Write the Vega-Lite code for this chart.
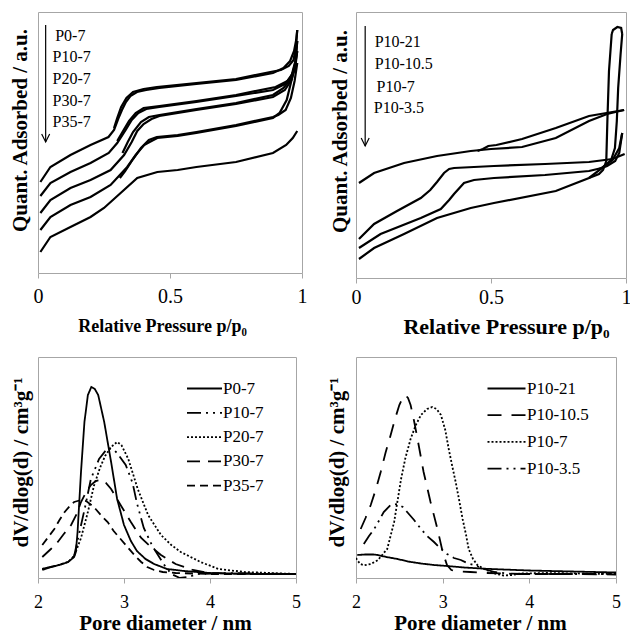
{
  "$schema": "https://vega.github.io/schema/vega-lite/v6.json",
  "background": "white",
  "padding": {"left": 8, "top": 11, "right": 0, "bottom": 0},
  "spacing": 18,
  "config": {
    "view": {"stroke": "#a6a6a6", "strokeWidth": 1},
    "font": "Liberation Serif",
    "text": {"font": "Liberation Serif"},
    "axis": {"grid": false, "domain": false, "labelFont": "Liberation Serif", "titleFont": "Liberation Serif", "labelColor": "black", "titleColor": "black", "titleFontWeight": "bold", "tickColor": "#a6a6a6", "tickSize": 5, "labelFlush": false, "labelBaseline": "alphabetic", "titleBaseline": "alphabetic", "titleAlign": "center"}
  },
  "resolve": {"scale": {"strokeDash": "independent"}, "legend": {"strokeDash": "independent"}},
  "datasets": {
    "iso1": [
      {"s":"P0-7","b":"a","x":0.009,"y":91},{"s":"P0-7","b":"a","x":0.047,"y":106},{"s":"P0-7","b":"a","x":0.123,"y":118},{"s":"P0-7","b":"a","x":0.199,"y":128},{"s":"P0-7","b":"a","x":0.267,"y":136},{"s":"P0-7","b":"a","x":0.288,"y":143},{"s":"P0-7","b":"a","x":0.305,"y":155},{"s":"P0-7","b":"a","x":0.318,"y":163},{"s":"P0-7","b":"a","x":0.333,"y":171},{"s":"P0-7","b":"a","x":0.35,"y":177},{"s":"P0-7","b":"a","x":0.375,"y":181},{"s":"P0-7","b":"a","x":0.41,"y":183},{"s":"P0-7","b":"a","x":0.46,"y":185},{"s":"P0-7","b":"a","x":0.6,"y":189},{"s":"P0-7","b":"a","x":0.75,"y":193},{"s":"P0-7","b":"a","x":0.89,"y":200},{"s":"P0-7","b":"a","x":0.93,"y":205},{"s":"P0-7","b":"a","x":0.955,"y":212},{"s":"P0-7","b":"a","x":0.97,"y":222},{"s":"P0-7","b":"a","x":0.978,"y":233},{"s":"P0-7","b":"a","x":0.982,"y":243},
      {"s":"P0-7","b":"d","x":0.982,"y":243},{"s":"P0-7","b":"d","x":0.977,"y":226},{"s":"P0-7","b":"d","x":0.968,"y":213},{"s":"P0-7","b":"d","x":0.95,"y":207},{"s":"P0-7","b":"d","x":0.92,"y":203},{"s":"P0-7","b":"d","x":0.88,"y":201},{"s":"P0-7","b":"d","x":0.75,"y":194},{"s":"P0-7","b":"d","x":0.6,"y":190},{"s":"P0-7","b":"d","x":0.45,"y":186},{"s":"P0-7","b":"d","x":0.4,"y":184},{"s":"P0-7","b":"d","x":0.36,"y":181},{"s":"P0-7","b":"d","x":0.335,"y":175},{"s":"P0-7","b":"d","x":0.315,"y":166},{"s":"P0-7","b":"d","x":0.3,"y":155},{"s":"P0-7","b":"d","x":0.288,"y":145},
      {"s":"P10-7","b":"a","x":0.009,"y":77},{"s":"P10-7","b":"a","x":0.047,"y":90},{"s":"P10-7","b":"a","x":0.123,"y":101},{"s":"P10-7","b":"a","x":0.199,"y":110},{"s":"P10-7","b":"a","x":0.268,"y":120},{"s":"P10-7","b":"a","x":0.3,"y":130},{"s":"P10-7","b":"a","x":0.332,"y":143},{"s":"P10-7","b":"a","x":0.355,"y":153},{"s":"P10-7","b":"a","x":0.38,"y":160},{"s":"P10-7","b":"a","x":0.41,"y":164},{"s":"P10-7","b":"a","x":0.46,"y":166},{"s":"P10-7","b":"a","x":0.6,"y":171},{"s":"P10-7","b":"a","x":0.75,"y":177},{"s":"P10-7","b":"a","x":0.89,"y":183},{"s":"P10-7","b":"a","x":0.935,"y":189},{"s":"P10-7","b":"a","x":0.96,"y":197},{"s":"P10-7","b":"a","x":0.975,"y":212},{"s":"P10-7","b":"a","x":0.982,"y":232},
      {"s":"P10-7","b":"d","x":0.982,"y":232},{"s":"P10-7","b":"d","x":0.976,"y":212},{"s":"P10-7","b":"d","x":0.965,"y":200},{"s":"P10-7","b":"d","x":0.945,"y":192},{"s":"P10-7","b":"d","x":0.9,"y":186},{"s":"P10-7","b":"d","x":0.75,"y":178},{"s":"P10-7","b":"d","x":0.6,"y":172},{"s":"P10-7","b":"d","x":0.46,"y":167},{"s":"P10-7","b":"d","x":0.4,"y":165},{"s":"P10-7","b":"d","x":0.37,"y":160},{"s":"P10-7","b":"d","x":0.345,"y":152},{"s":"P10-7","b":"d","x":0.32,"y":141},{"s":"P10-7","b":"d","x":0.3,"y":132},
      {"s":"P20-7","b":"a","x":0.009,"y":60},{"s":"P20-7","b":"a","x":0.047,"y":73},{"s":"P20-7","b":"a","x":0.123,"y":85},{"s":"P20-7","b":"a","x":0.199,"y":93},{"s":"P20-7","b":"a","x":0.275,"y":103},{"s":"P20-7","b":"a","x":0.326,"y":118},{"s":"P20-7","b":"a","x":0.355,"y":131},{"s":"P20-7","b":"a","x":0.376,"y":142},{"s":"P20-7","b":"a","x":0.4,"y":149},{"s":"P20-7","b":"a","x":0.43,"y":154},{"s":"P20-7","b":"a","x":0.46,"y":157},{"s":"P20-7","b":"a","x":0.6,"y":163},{"s":"P20-7","b":"a","x":0.75,"y":169},{"s":"P20-7","b":"a","x":0.89,"y":176},{"s":"P20-7","b":"a","x":0.935,"y":183},{"s":"P20-7","b":"a","x":0.96,"y":193},{"s":"P20-7","b":"a","x":0.975,"y":207},{"s":"P20-7","b":"a","x":0.982,"y":222},
      {"s":"P20-7","b":"d","x":0.982,"y":222},{"s":"P20-7","b":"d","x":0.972,"y":205},{"s":"P20-7","b":"d","x":0.955,"y":193},{"s":"P20-7","b":"d","x":0.93,"y":185},{"s":"P20-7","b":"d","x":0.89,"y":178},{"s":"P20-7","b":"d","x":0.75,"y":170},{"s":"P20-7","b":"d","x":0.6,"y":164},{"s":"P20-7","b":"d","x":0.46,"y":158},{"s":"P20-7","b":"d","x":0.42,"y":156},{"s":"P20-7","b":"d","x":0.39,"y":151},{"s":"P20-7","b":"d","x":0.36,"y":141},{"s":"P20-7","b":"d","x":0.34,"y":131},{"s":"P20-7","b":"d","x":0.32,"y":120},
      {"s":"P30-7","b":"a","x":0.009,"y":43},{"s":"P30-7","b":"a","x":0.047,"y":56},{"s":"P30-7","b":"a","x":0.123,"y":68},{"s":"P30-7","b":"a","x":0.199,"y":76},{"s":"P30-7","b":"a","x":0.275,"y":88},{"s":"P30-7","b":"a","x":0.338,"y":106},{"s":"P30-7","b":"a","x":0.37,"y":118},{"s":"P30-7","b":"a","x":0.402,"y":128},{"s":"P30-7","b":"a","x":0.43,"y":132},{"s":"P30-7","b":"a","x":0.452,"y":135},{"s":"P30-7","b":"a","x":0.529,"y":137},{"s":"P30-7","b":"a","x":0.6,"y":140},{"s":"P30-7","b":"a","x":0.75,"y":147},{"s":"P30-7","b":"a","x":0.89,"y":155},{"s":"P30-7","b":"a","x":0.915,"y":160},{"s":"P30-7","b":"a","x":0.942,"y":173},{"s":"P30-7","b":"a","x":0.967,"y":200},{"s":"P30-7","b":"a","x":0.982,"y":210},
      {"s":"P30-7","b":"d","x":0.982,"y":210},{"s":"P30-7","b":"d","x":0.972,"y":192},{"s":"P30-7","b":"d","x":0.958,"y":175},{"s":"P30-7","b":"d","x":0.938,"y":163},{"s":"P30-7","b":"d","x":0.91,"y":158},{"s":"P30-7","b":"d","x":0.89,"y":156},{"s":"P30-7","b":"d","x":0.75,"y":148},{"s":"P30-7","b":"d","x":0.6,"y":141},{"s":"P30-7","b":"d","x":0.529,"y":138},{"s":"P30-7","b":"d","x":0.45,"y":136},{"s":"P30-7","b":"d","x":0.42,"y":133},{"s":"P30-7","b":"d","x":0.39,"y":125},{"s":"P30-7","b":"d","x":0.36,"y":114},{"s":"P30-7","b":"d","x":0.33,"y":102},{"s":"P30-7","b":"d","x":0.31,"y":95},
      {"s":"P35-7","b":"a","x":0.009,"y":21},{"s":"P35-7","b":"a","x":0.047,"y":36},{"s":"P35-7","b":"a","x":0.123,"y":46},{"s":"P35-7","b":"a","x":0.199,"y":56},{"s":"P35-7","b":"a","x":0.25,"y":65},{"s":"P35-7","b":"a","x":0.313,"y":80},{"s":"P35-7","b":"a","x":0.376,"y":95},{"s":"P35-7","b":"a","x":0.452,"y":101},{"s":"P35-7","b":"a","x":0.529,"y":103},{"s":"P35-7","b":"a","x":0.6,"y":106},{"s":"P35-7","b":"a","x":0.75,"y":111},{"s":"P35-7","b":"a","x":0.89,"y":120},{"s":"P35-7","b":"a","x":0.94,"y":128},{"s":"P35-7","b":"a","x":0.965,"y":135},{"s":"P35-7","b":"a","x":0.982,"y":142}
    ],
    "iso2": [
      {"s":"P10-21","b":"a","x":0.011,"y":95},{"s":"P10-21","b":"a","x":0.067,"y":105},{"s":"P10-21","b":"a","x":0.178,"y":115},{"s":"P10-21","b":"a","x":0.3,"y":122},{"s":"P10-21","b":"a","x":0.425,"y":127},{"s":"P10-21","b":"a","x":0.5,"y":129},{"s":"P10-21","b":"a","x":0.615,"y":131},{"s":"P10-21","b":"a","x":0.74,"y":140},{"s":"P10-21","b":"a","x":0.863,"y":157},{"s":"P10-21","b":"a","x":0.93,"y":164},{"s":"P10-21","b":"a","x":0.993,"y":168},
      {"s":"P10-21","b":"d","x":0.993,"y":168},{"s":"P10-21","b":"d","x":0.863,"y":162},{"s":"P10-21","b":"d","x":0.74,"y":150},{"s":"P10-21","b":"d","x":0.615,"y":139},{"s":"P10-21","b":"d","x":0.52,"y":133},{"s":"P10-21","b":"d","x":0.49,"y":132},{"s":"P10-21","b":"d","x":0.47,"y":129},{"s":"P10-21","b":"d","x":0.45,"y":127},
      {"s":"P10-10.5","b":"a","x":0.011,"y":39},{"s":"P10-10.5","b":"a","x":0.067,"y":54},{"s":"P10-10.5","b":"a","x":0.152,"y":67},{"s":"P10-10.5","b":"a","x":0.24,"y":80},{"s":"P10-10.5","b":"a","x":0.275,"y":88},{"s":"P10-10.5","b":"a","x":0.3,"y":96},{"s":"P10-10.5","b":"a","x":0.326,"y":105},{"s":"P10-10.5","b":"a","x":0.345,"y":109},{"s":"P10-10.5","b":"a","x":0.363,"y":110},{"s":"P10-10.5","b":"a","x":0.511,"y":112},{"s":"P10-10.5","b":"a","x":0.7,"y":114},{"s":"P10-10.5","b":"a","x":0.863,"y":116},{"s":"P10-10.5","b":"a","x":0.95,"y":119},{"s":"P10-10.5","b":"a","x":0.995,"y":124},
      {"s":"P10-7","b":"a","x":0.011,"y":30},{"s":"P10-7","b":"a","x":0.091,"y":44},{"s":"P10-7","b":"a","x":0.24,"y":60},{"s":"P10-7","b":"a","x":0.314,"y":69},{"s":"P10-7","b":"a","x":0.345,"y":78},{"s":"P10-7","b":"a","x":0.363,"y":84},{"s":"P10-7","b":"a","x":0.4,"y":95},{"s":"P10-7","b":"a","x":0.437,"y":98},{"s":"P10-7","b":"a","x":0.511,"y":100},{"s":"P10-7","b":"a","x":0.7,"y":103},{"s":"P10-7","b":"a","x":0.863,"y":107},{"s":"P10-7","b":"a","x":0.91,"y":110},{"s":"P10-7","b":"a","x":0.95,"y":118},{"s":"P10-7","b":"a","x":0.975,"y":130},{"s":"P10-7","b":"a","x":0.986,"y":145},
      {"s":"P10-7","b":"d","x":0.986,"y":145},{"s":"P10-7","b":"d","x":0.975,"y":125},{"s":"P10-7","b":"d","x":0.96,"y":117},{"s":"P10-7","b":"d","x":0.93,"y":112},{"s":"P10-7","b":"d","x":0.9,"y":109},
      {"s":"P10-3.5","b":"a","x":0.011,"y":19},{"s":"P10-3.5","b":"a","x":0.067,"y":30},{"s":"P10-3.5","b":"a","x":0.178,"y":44},{"s":"P10-3.5","b":"a","x":0.3,"y":60},{"s":"P10-3.5","b":"a","x":0.425,"y":70},{"s":"P10-3.5","b":"a","x":0.511,"y":75},{"s":"P10-3.5","b":"a","x":0.74,"y":87},{"s":"P10-3.5","b":"a","x":0.863,"y":100},{"s":"P10-3.5","b":"a","x":0.912,"y":110},{"s":"P10-3.5","b":"a","x":0.945,"y":118},{"s":"P10-3.5","b":"a","x":0.959,"y":130},{"s":"P10-3.5","b":"a","x":0.966,"y":157},{"s":"P10-3.5","b":"a","x":0.971,"y":190},{"s":"P10-3.5","b":"a","x":0.98,"y":224},{"s":"P10-3.5","b":"a","x":0.986,"y":244},
      {"s":"P10-3.5","b":"c","x":0.986,"y":244},{"s":"P10-3.5","b":"c","x":0.982,"y":250},{"s":"P10-3.5","b":"c","x":0.968,"y":251},{"s":"P10-3.5","b":"c","x":0.952,"y":248},{"s":"P10-3.5","b":"c","x":0.947,"y":244},
      {"s":"P10-3.5","b":"d","x":0.947,"y":244},{"s":"P10-3.5","b":"d","x":0.937,"y":207},{"s":"P10-3.5","b":"d","x":0.931,"y":157},{"s":"P10-3.5","b":"d","x":0.927,"y":117},{"s":"P10-3.5","b":"d","x":0.915,"y":108},{"s":"P10-3.5","b":"d","x":0.9,"y":104},{"s":"P10-3.5","b":"d","x":0.863,"y":100}
    ],
    "lab1": [
      {"s":"P0-7","x":0.065,"y":237},{"s":"P10-7","x":0.055,"y":216},{"s":"P20-7","x":0.055,"y":194},{"s":"P30-7","x":0.055,"y":172},{"s":"P35-7","x":0.055,"y":151}
    ],
    "arr1": [{"x":0.029,"y":248,"y2":131}],
    "lab2": [
      {"s":"P10-21","x":0.069,"y":236},{"s":"P10-10.5","x":0.069,"y":214},{"s":"P10-7","x":0.076,"y":191},{"s":"P10-3.5","x":0.066,"y":170}
    ],
    "arr2": [{"x":0.034,"y":252,"y2":132}],
    "psd1": [
      {"s":"P0-7","x":2.05,"y":8},{"s":"P0-7","x":2.15,"y":11},{"s":"P0-7","x":2.25,"y":13},{"s":"P0-7","x":2.35,"y":16},{"s":"P0-7","x":2.42,"y":21},{"s":"P0-7","x":2.44,"y":26},{"s":"P0-7","x":2.46,"y":46},{"s":"P0-7","x":2.5,"y":106},{"s":"P0-7","x":2.54,"y":156},{"s":"P0-7","x":2.58,"y":183},{"s":"P0-7","x":2.62,"y":191},{"s":"P0-7","x":2.66,"y":189},{"s":"P0-7","x":2.7,"y":183},{"s":"P0-7","x":2.77,"y":156},{"s":"P0-7","x":2.85,"y":116},{"s":"P0-7","x":2.92,"y":79},{"s":"P0-7","x":3.0,"y":53},{"s":"P0-7","x":3.08,"y":37},{"s":"P0-7","x":3.15,"y":27},{"s":"P0-7","x":3.25,"y":19},{"s":"P0-7","x":3.35,"y":14},{"s":"P0-7","x":3.5,"y":9},{"s":"P0-7","x":3.7,"y":7},{"s":"P0-7","x":4.0,"y":5},{"s":"P0-7","x":4.5,"y":4},{"s":"P0-7","x":5.0,"y":4},
      {"s":"P10-7","x":2.05,"y":9},{"s":"P10-7","x":2.2,"y":12},{"s":"P10-7","x":2.35,"y":16},{"s":"P10-7","x":2.42,"y":22},{"s":"P10-7","x":2.48,"y":45},{"s":"P10-7","x":2.55,"y":72},{"s":"P10-7","x":2.615,"y":99},{"s":"P10-7","x":2.71,"y":119},{"s":"P10-7","x":2.81,"y":130},{"s":"P10-7","x":2.87,"y":129},{"s":"P10-7","x":2.92,"y":125},{"s":"P10-7","x":3.02,"y":113},{"s":"P10-7","x":3.1,"y":95},{"s":"P10-7","x":3.15,"y":75},{"s":"P10-7","x":3.23,"y":50},{"s":"P10-7","x":3.33,"y":32},{"s":"P10-7","x":3.46,"y":14},{"s":"P10-7","x":3.55,"y":4},{"s":"P10-7","x":3.65,"y":0},{"s":"P10-7","x":3.75,"y":1},{"s":"P10-7","x":3.85,"y":4},{"s":"P10-7","x":4.2,"y":5},{"s":"P10-7","x":5.0,"y":4},
      {"s":"P20-7","x":2.05,"y":9},{"s":"P20-7","x":2.2,"y":12},{"s":"P20-7","x":2.35,"y":16},{"s":"P20-7","x":2.42,"y":22},{"s":"P20-7","x":2.5,"y":40},{"s":"P20-7","x":2.58,"y":66},{"s":"P20-7","x":2.65,"y":92},{"s":"P20-7","x":2.72,"y":110},{"s":"P20-7","x":2.78,"y":122},{"s":"P20-7","x":2.85,"y":131},{"s":"P20-7","x":2.92,"y":136},{"s":"P20-7","x":2.97,"y":133},{"s":"P20-7","x":3.05,"y":119},{"s":"P20-7","x":3.16,"y":89},{"s":"P20-7","x":3.28,"y":63},{"s":"P20-7","x":3.43,"y":43},{"s":"P20-7","x":3.55,"y":33},{"s":"P20-7","x":3.66,"y":26},{"s":"P20-7","x":3.89,"y":16},{"s":"P20-7","x":4.1,"y":9},{"s":"P20-7","x":4.4,"y":6},{"s":"P20-7","x":5.0,"y":4},
      {"s":"P30-7","x":2.05,"y":21},{"s":"P30-7","x":2.15,"y":29},{"s":"P30-7","x":2.23,"y":36},{"s":"P30-7","x":2.3,"y":44},{"s":"P30-7","x":2.385,"y":53},{"s":"P30-7","x":2.45,"y":64},{"s":"P30-7","x":2.5,"y":76},{"s":"P30-7","x":2.56,"y":86},{"s":"P30-7","x":2.615,"y":93},{"s":"P30-7","x":2.67,"y":97},{"s":"P30-7","x":2.73,"y":98},{"s":"P30-7","x":2.79,"y":95},{"s":"P30-7","x":2.85,"y":89},{"s":"P30-7","x":2.96,"y":73},{"s":"P30-7","x":3.08,"y":56},{"s":"P30-7","x":3.2,"y":40},{"s":"P30-7","x":3.3,"y":32},{"s":"P30-7","x":3.43,"y":23},{"s":"P30-7","x":3.6,"y":14},{"s":"P30-7","x":3.8,"y":8},{"s":"P30-7","x":4.0,"y":5},{"s":"P30-7","x":4.5,"y":4},{"s":"P30-7","x":5.0,"y":4},
      {"s":"P35-7","x":2.05,"y":33},{"s":"P35-7","x":2.12,"y":41},{"s":"P35-7","x":2.19,"y":49},{"s":"P35-7","x":2.25,"y":58},{"s":"P35-7","x":2.31,"y":66},{"s":"P35-7","x":2.37,"y":72},{"s":"P35-7","x":2.42,"y":76},{"s":"P35-7","x":2.5,"y":78},{"s":"P35-7","x":2.56,"y":77},{"s":"P35-7","x":2.62,"y":73},{"s":"P35-7","x":2.67,"y":69},{"s":"P35-7","x":2.74,"y":62},{"s":"P35-7","x":2.81,"y":56},{"s":"P35-7","x":2.88,"y":47},{"s":"P35-7","x":2.96,"y":39},{"s":"P35-7","x":3.04,"y":31},{"s":"P35-7","x":3.12,"y":23},{"s":"P35-7","x":3.2,"y":16},{"s":"P35-7","x":3.27,"y":11},{"s":"P35-7","x":3.35,"y":8},{"s":"P35-7","x":3.45,"y":6},{"s":"P35-7","x":3.6,"y":5},{"s":"P35-7","x":4.0,"y":4},{"s":"P35-7","x":5.0,"y":4}
    ],
    "psd2": [
      {"s":"P10-21","x":2.015,"y":23},{"s":"P10-21","x":2.1,"y":23.5},{"s":"P10-21","x":2.2,"y":23.5},{"s":"P10-21","x":2.25,"y":23},{"s":"P10-21","x":2.35,"y":21},{"s":"P10-21","x":2.48,"y":19},{"s":"P10-21","x":2.6,"y":16.5},{"s":"P10-21","x":2.75,"y":14.5},{"s":"P10-21","x":2.9,"y":13},{"s":"P10-21","x":3.05,"y":12},{"s":"P10-21","x":3.25,"y":10.5},{"s":"P10-21","x":3.48,"y":9.3},{"s":"P10-21","x":3.7,"y":8.5},{"s":"P10-21","x":4.0,"y":7.5},{"s":"P10-21","x":4.5,"y":6.5},{"s":"P10-21","x":5.0,"y":5.5},
      {"s":"P10-10.5","x":2.054,"y":49},{"s":"P10-10.5","x":2.11,"y":60},{"s":"P10-10.5","x":2.17,"y":73},{"s":"P10-10.5","x":2.23,"y":89},{"s":"P10-10.5","x":2.285,"y":106},{"s":"P10-10.5","x":2.34,"y":125},{"s":"P10-10.5","x":2.4,"y":143},{"s":"P10-10.5","x":2.45,"y":159},{"s":"P10-10.5","x":2.5,"y":173},{"s":"P10-10.5","x":2.55,"y":182},{"s":"P10-10.5","x":2.57,"y":183},{"s":"P10-10.5","x":2.6,"y":180},{"s":"P10-10.5","x":2.63,"y":173},{"s":"P10-10.5","x":2.67,"y":157},{"s":"P10-10.5","x":2.71,"y":139},{"s":"P10-10.5","x":2.78,"y":106},{"s":"P10-10.5","x":2.86,"y":76},{"s":"P10-10.5","x":2.94,"y":49},{"s":"P10-10.5","x":3.0,"y":26},{"s":"P10-10.5","x":3.05,"y":13},{"s":"P10-10.5","x":3.1,"y":8},{"s":"P10-10.5","x":3.17,"y":6.5},{"s":"P10-10.5","x":3.32,"y":6},{"s":"P10-10.5","x":3.5,"y":5},{"s":"P10-10.5","x":4.0,"y":4},{"s":"P10-10.5","x":4.5,"y":4},{"s":"P10-10.5","x":5.0,"y":3.5},
      {"s":"P10-7","x":2.0,"y":20},{"s":"P10-7","x":2.015,"y":17.7},{"s":"P10-7","x":2.05,"y":14},{"s":"P10-7","x":2.09,"y":12.7},{"s":"P10-7","x":2.17,"y":14},{"s":"P10-7","x":2.25,"y":17.7},{"s":"P10-7","x":2.36,"y":29},{"s":"P10-7","x":2.44,"y":56},{"s":"P10-7","x":2.52,"y":99},{"s":"P10-7","x":2.57,"y":120},{"s":"P10-7","x":2.63,"y":139},{"s":"P10-7","x":2.69,"y":153},{"s":"P10-7","x":2.75,"y":163},{"s":"P10-7","x":2.82,"y":169},{"s":"P10-7","x":2.88,"y":171},{"s":"P10-7","x":2.93,"y":169},{"s":"P10-7","x":2.98,"y":163},{"s":"P10-7","x":3.03,"y":148},{"s":"P10-7","x":3.07,"y":129},{"s":"P10-7","x":3.11,"y":112},{"s":"P10-7","x":3.15,"y":96},{"s":"P10-7","x":3.19,"y":78},{"s":"P10-7","x":3.23,"y":59},{"s":"P10-7","x":3.27,"y":43},{"s":"P10-7","x":3.3,"y":29},{"s":"P10-7","x":3.35,"y":19},{"s":"P10-7","x":3.4,"y":13},{"s":"P10-7","x":3.48,"y":9},{"s":"P10-7","x":3.58,"y":5},{"s":"P10-7","x":3.7,"y":2.5},{"s":"P10-7","x":3.8,"y":3},{"s":"P10-7","x":3.9,"y":4.5},{"s":"P10-7","x":4.2,"y":5},{"s":"P10-7","x":5.0,"y":4},
      {"s":"P10-3.5","x":2.09,"y":34},{"s":"P10-3.5","x":2.15,"y":42},{"s":"P10-3.5","x":2.21,"y":49},{"s":"P10-3.5","x":2.27,"y":58},{"s":"P10-3.5","x":2.32,"y":66},{"s":"P10-3.5","x":2.4,"y":73},{"s":"P10-3.5","x":2.48,"y":74},{"s":"P10-3.5","x":2.54,"y":71},{"s":"P10-3.5","x":2.59,"y":66},{"s":"P10-3.5","x":2.67,"y":58},{"s":"P10-3.5","x":2.75,"y":49},{"s":"P10-3.5","x":2.82,"y":42},{"s":"P10-3.5","x":2.9,"y":36},{"s":"P10-3.5","x":2.97,"y":30},{"s":"P10-3.5","x":3.05,"y":24},{"s":"P10-3.5","x":3.13,"y":20},{"s":"P10-3.5","x":3.21,"y":18},{"s":"P10-3.5","x":3.28,"y":15},{"s":"P10-3.5","x":3.36,"y":13},{"s":"P10-3.5","x":3.48,"y":9},{"s":"P10-3.5","x":3.6,"y":6},{"s":"P10-3.5","x":3.8,"y":4},{"s":"P10-3.5","x":4.2,"y":4},{"s":"P10-3.5","x":5.0,"y":4}
    ]
  },
  "vconcat": [
    {
      "spacing": 20,
      "hconcat": [
        {
          "width": 264, "height": 261,
          "layer": [
            {
              "data": {"name": "iso1"},
              "mark": {"type": "line", "color": "black", "strokeWidth": 2.2},
              "encoding": {
                "x": {"field": "x", "type": "quantitative", "scale": {"domain": [0, 1], "nice": false},
                      "axis": {"values": [0, 0.5, 1], "format": "~g", "labelFont": "Liberation Serif", "titleFont": "Liberation Serif", "labelFontSize": 20, "labelPadding": 24, "title": "Relative Pressure p/p₀", "titleFontSize": 18, "titleX": 124, "titleY": 58}},
                "y": {"field": "y", "type": "quantitative", "scale": {"domain": [0, 261], "nice": false},
                      "axis": {"title": "Quant. Adsorbed / a.u.", "labels": false, "ticks": false, "labelFont": "Liberation Serif", "titleFont": "Liberation Serif", "titleFontSize": 21, "titleX": -18, "titleY": 118, "titleBaseline": "middle", "titleAngle": -90}},
                "detail": [{"field": "s"}, {"field": "b"}]
              }
            },
            {
              "data": {"name": "lab1"},
              "mark": {"type": "text", "align": "left", "baseline": "middle", "font": "Liberation Serif", "fontSize": 16, "color": "black"},
              "encoding": {"x": {"field": "x", "type": "quantitative"}, "y": {"field": "y", "type": "quantitative"}, "text": {"field": "s"}}
            },
            {
              "data": {"name": "arr1"},
              "mark": {"type": "rule", "color": "black", "strokeWidth": 1.2},
              "encoding": {"x": {"field": "x", "type": "quantitative"}, "y": {"field": "y", "type": "quantitative"}, "y2": {"field": "y2"}}
            },
            {
              "data": {"name": "arr1"},
              "mark": {"type": "point", "shape": "M-0.5,-1L0,0L0.5,-1", "size": 256, "filled": false, "color": "black", "strokeWidth": 1.2, "opacity": 1},
              "encoding": {"x": {"field": "x", "type": "quantitative"}, "y": {"field": "y2", "type": "quantitative"}}
            }
          ]
        },
        {
          "width": 270, "height": 266,
          "layer": [
            {
              "data": {"name": "iso2"},
              "mark": {"type": "line", "color": "black", "strokeWidth": 2.2},
              "encoding": {
                "x": {"field": "x", "type": "quantitative", "scale": {"domain": [0, 1], "nice": false},
                      "axis": {"values": [0, 0.5, 1], "format": "~g", "labelFont": "Liberation Serif", "titleFont": "Liberation Serif", "labelFontSize": 20, "labelPadding": 20, "title": "Relative Pressure p/p₀", "titleFontSize": 22, "titleX": 150, "titleY": 55}},
                "y": {"field": "y", "type": "quantitative", "scale": {"domain": [0, 266], "nice": false},
                      "axis": {"title": "Quant. Adsorbed / a.u.", "labels": false, "ticks": false, "labelFont": "Liberation Serif", "titleFont": "Liberation Serif", "titleFontSize": 21, "titleX": -16, "titleY": 119, "titleBaseline": "middle", "titleAngle": -90}},
                "detail": [{"field": "s"}, {"field": "b"}]
              }
            },
            {
              "data": {"name": "lab2"},
              "mark": {"type": "text", "align": "left", "baseline": "middle", "font": "Liberation Serif", "fontSize": 16, "color": "black"},
              "encoding": {"x": {"field": "x", "type": "quantitative"}, "y": {"field": "y", "type": "quantitative"}, "text": {"field": "s"}}
            },
            {
              "data": {"name": "arr2"},
              "mark": {"type": "rule", "color": "black", "strokeWidth": 1.2},
              "encoding": {"x": {"field": "x", "type": "quantitative"}, "y": {"field": "y", "type": "quantitative"}, "y2": {"field": "y2"}}
            },
            {
              "data": {"name": "arr2"},
              "mark": {"type": "point", "shape": "M-0.5,-1L0,0L0.5,-1", "size": 256, "filled": false, "color": "black", "strokeWidth": 1.2, "opacity": 1},
              "encoding": {"x": {"field": "x", "type": "quantitative"}, "y": {"field": "y2", "type": "quantitative"}}
            }
          ]
        }
      ]
    },
    {
      "spacing": 24,
      "resolve": {"scale": {"strokeDash": "independent"}, "legend": {"strokeDash": "independent"}},
      "hconcat": [
        {
          "width": 258, "height": 221,
          "data": {"name": "psd1"},
          "mark": {"type": "line", "color": "black", "strokeWidth": 1.8, "clip": true},
          "encoding": {
            "x": {"field": "x", "type": "quantitative", "scale": {"domain": [2, 5], "nice": false},
                  "axis": {"values": [2, 3, 4, 5], "labelFont": "Liberation Serif", "titleFont": "Liberation Serif", "labelFontSize": 18, "labelPadding": 24, "title": "Pore diameter / nm", "titleFontSize": 21, "titleX": 127, "titleY": 51}},
            "y": {"field": "y", "type": "quantitative", "scale": {"domain": [0, 221], "nice": false},
                  "axis": {"title": "dV/dlog(d) / cm³g⁻¹", "labels": false, "ticks": false, "labelFont": "Liberation Serif", "titleFont": "Liberation Serif", "titleFontSize": 21, "titleX": -17, "titleY": 105, "titleBaseline": "middle", "titleAngle": -90}},
            "strokeDash": {"field": "s", "type": "nominal",
              "scale": {"domain": ["P0-7", "P10-7", "P20-7", "P30-7", "P35-7"], "range": [[1, 0], [14, 5, 2, 5, 2, 5], [2, 2], [13, 8], [8, 5]]},
              "legend": {"orient": "none", "legendX": 158, "legendY": 23, "title": null, "symbolType": "M-3.5,0L3.5,0", "symbolSize": 100, "symbolStrokeWidth": 1.8, "symbolStrokeColor": "black", "labelFont": "Liberation Serif", "labelFontSize": 17, "labelColor": "black", "labelOffset": 10, "rowPadding": 6.3, "padding": 0}}
          }
        },
        {
          "width": 260, "height": 221,
          "data": {"name": "psd2"},
          "mark": {"type": "line", "color": "black", "strokeWidth": 1.8, "clip": true},
          "encoding": {
            "x": {"field": "x", "type": "quantitative", "scale": {"domain": [2, 5], "nice": false},
                  "axis": {"values": [2, 3, 4, 5], "labelFont": "Liberation Serif", "titleFont": "Liberation Serif", "labelFontSize": 18, "labelPadding": 24, "title": "Pore diameter / nm", "titleFontSize": 21, "titleX": 124, "titleY": 51}},
            "y": {"field": "y", "type": "quantitative", "scale": {"domain": [0, 221], "nice": false},
                  "axis": {"title": "dV/dlog(d) / cm³g⁻¹", "labels": false, "ticks": false, "labelFont": "Liberation Serif", "titleFont": "Liberation Serif", "titleFontSize": 21, "titleX": -19, "titleY": 105, "titleBaseline": "middle", "titleAngle": -90}},
            "strokeDash": {"field": "s", "type": "nominal",
              "scale": {"domain": ["P10-21", "P10-10.5", "P10-7", "P10-3.5"], "range": [[1, 0], [14, 10], [2, 2], [14, 5, 2, 5, 2, 5]]},
              "legend": {"orient": "none", "legendX": 142, "legendY": 23, "title": null, "symbolType": "M-3.8,0L3.8,0", "symbolSize": 100, "symbolStrokeWidth": 1.8, "symbolStrokeColor": "black", "labelFont": "Liberation Serif", "labelFontSize": 17, "labelColor": "black", "labelOffset": 12, "rowPadding": 8.7, "padding": 0}}
          }
        }
      ]
    }
  ]
}
